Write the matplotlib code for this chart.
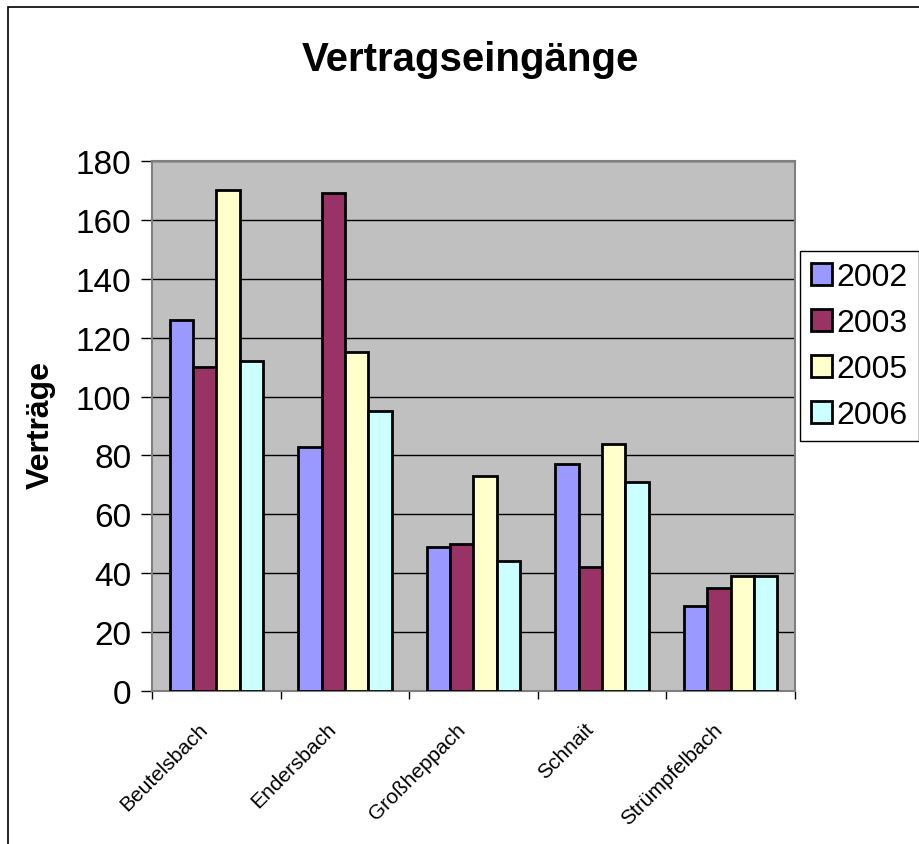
import numpy as np
import matplotlib.pyplot as plt
from matplotlib.patches import Rectangle

plt.rcParams['font.family'] = ['Liberation Sans', 'DejaVu Sans']

# data
orte = ["Beutelsbach", "Endersbach", "Großheppach", "Schnait", "Strümpfelbach"]
jahre = ["2002", "2003", "2005", "2006"]
v2002 = [126, 83, 49, 77, 29]
v2003 = [110, 169, 50, 42, 35]
v2005 = [170, 115, 73, 84, 39]
v2006 = [112, 95, 44, 71, 39]
werte = [v2002, v2003, v2005, v2006]
farben = ["#9999FF", "#993366", "#FFFFCC", "#CCFFFF"]

fig = plt.figure(figsize=(9.2, 8.45), dpi=100)
ax = fig.add_axes([152/920, 1 - 692/845, (795-152)/920, (692-162)/845])
ax.set_facecolor("#C0C0C0")

# outer frame like the excel chart area
fig.patches.append(Rectangle((8/920, -0.01), 1.0, 1.0 - 8/845 + 0.01, transform=fig.transFigure,
                             fill=False, edgecolor="black", linewidth=1.2))

x = np.arange(len(orte))
bw = 1 / 5.5
for i in range(4):
    ax.bar(x + (i - 1.5) * bw, werte[i], width=bw, color=farben[i], edgecolor="black",
           linewidth=2, label=jahre[i], zorder=3)

ax.set_xlim(-0.5, 4.5)
ax.set_ylim(0, 180)
ax.set_yticks(range(0, 181, 20))
ax.yaxis.grid(True, color="black", linewidth=1)
ax.set_axisbelow(True)
ax.tick_params(axis="y", labelsize=24, direction="out", length=8, width=1, pad=7)

ax.set_xticks(np.arange(-0.5, 5, 1))
ax.set_xticklabels([])
ax.tick_params(axis="x", direction="out", length=6, width=1)
for i, name in enumerate(orte):
    ax.text(i - 0.14, -9.5, name, rotation=45, ha="right", va="top", rotation_mode="anchor",
            fontsize=15, transform=ax.transData)

for s in ["left", "bottom", "top", "right"]:
    ax.spines[s].set_color("#808080")
    ax.spines[s].set_linewidth(1.5)

fig.text(41/920, 1 - 425/845, "Verträge", fontsize=23, fontweight="bold",
         rotation=90, ha="center", va="center")
fig.text(470/920, 1 - 60/845, "Vertragseingänge", fontsize=29, fontweight="bold",
         ha="center", va="center")

leg = fig.legend(loc="upper left", bbox_to_anchor=(800/920, 1 - 252/845), fontsize=23,
                 frameon=True, fancybox=False, edgecolor="black", framealpha=1,
                 handlelength=0.65, handleheight=0.65, handletextpad=0.15,
                 labelspacing=0.5, borderpad=0.35, borderaxespad=0)
leg.get_frame().set_linewidth(1)

fig.savefig("out.png", dpi=100)
